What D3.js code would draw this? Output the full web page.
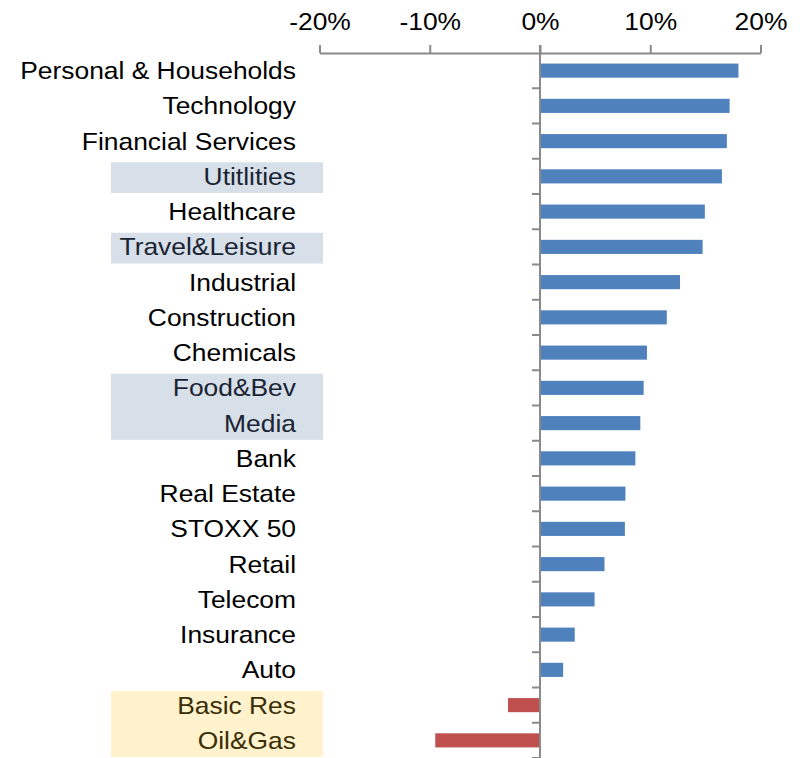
<!DOCTYPE html>
<html>
<head>
<meta charset="utf-8">
<script src="https://cdn.jsdelivr.net/npm/d3@7"></script>
<style>
  html, body { margin: 0; padding: 0; background: #ffffff; }
  svg { display: block; font-family: Arial, "Liberation Sans", sans-serif; }
</style>
</head>
<body>
<svg id="chart" width="800" height="758"></svg>
<script>
// Sector returns, sorted from best to worst
const sectors = [
  "Personal & Households", "Technology", "Financial Services", "Utitlities",
  "Healthcare", "Travel&Leisure", "Industrial", "Construction", "Chemicals",
  "Food&Bev", "Media", "Bank", "Real Estate", "STOXX 50", "Retail",
  "Telecom", "Insurance", "Auto", "Basic Res", "Oil&Gas"
];
const returns = [
  18.0, 17.2, 16.95, 16.5, 14.95, 14.75, 12.7, 11.5, 9.7,
  9.4, 9.1, 8.65, 7.75, 7.7, 5.85, 4.95, 3.15, 2.1, -2.9, -9.5
];
const tickValues = [-20, -10, 0, 10, 20];

// Highlighted label groups: [first sector, last sector, fill, text colour]
const highlights = [
  ["Utitlities", "Utitlities", "#d7dfe8", "#1a2434"],
  ["Travel&Leisure", "Travel&Leisure", "#d7dfe8", "#1a2434"],
  ["Food&Bev", "Media", "#d7dfe8", "#1a2434"],
  ["Basic Res", "Oil&Gas", "#fff2cc", "#3a2e08"]
];

const svg = d3.select("#chart");
const axisColor = "#8a8a8a";
const fontSize = 24, stretch = 1.1;

const x = d3.scaleLinear().domain([-20, 20]).range([319.5, 760.5]);
const y = d3.scaleBand().domain(sectors).range([53, 758]).paddingInner(0.6).paddingOuter(0.3);
const step = y.step();
const bandTop = d => y(d) - y.paddingInner() * step / 2;

// Highlight boxes behind some labels
svg.append("g").selectAll("rect")
  .data(highlights)
  .join("rect")
  .attr("x", 111)
  .attr("width", 212)
  .attr("y", d => bandTop(d[0]) + 3.5)
  .attr("height", d => bandTop(d[1]) + step - 1 - (bandTop(d[0]) + 3.5))
  .attr("fill", d => d[2]);

const labelColor = name => {
  for (const h of highlights) {
    const i0 = sectors.indexOf(h[0]), i1 = sectors.indexOf(h[1]), i = sectors.indexOf(name);
    if (i >= i0 && i <= i1) return h[3];
  }
  return "#000000";
};

// Category labels
svg.append("g").selectAll("text")
  .data(sectors)
  .join("text")
  .attr("transform", d => `translate(296,${y(d) + y.bandwidth() / 2 + 8.5}) scale(${stretch},1)`)
  .attr("text-anchor", "end")
  .attr("font-size", fontSize)
  .attr("fill", labelColor)
  .text(d => d);

// Bars
svg.append("g").selectAll("rect")
  .data(sectors.map((s, i) => ({ s, v: returns[i] })))
  .join("rect")
  .attr("x", d => x(Math.min(0, d.v)))
  .attr("width", d => Math.abs(x(d.v) - x(0)))
  .attr("y", d => y(d.s))
  .attr("height", y.bandwidth())
  .attr("fill", d => d.v >= 0 ? "#4f81bd" : "#c0504d");

// Top value axis
const xAxis = d3.axisTop(x)
  .tickValues(tickValues)
  .tickSize(8)
  .tickSizeOuter(0)
  .tickFormat(d => d + "%");
const gx = svg.append("g").attr("transform", "translate(0,53)").call(xAxis);
gx.select(".domain").attr("stroke", axisColor).attr("stroke-width", 2);
gx.selectAll(".tick line").attr("stroke", axisColor).attr("stroke-width", 2);
gx.selectAll(".tick text")
  .attr("font-size", fontSize)
  .attr("font-family", "Arial, 'Liberation Sans', sans-serif")
  .attr("fill", "#000000")
  .attr("y", 0)
  .attr("dy", 0)
  .attr("transform", d => `translate(0,-23) scale(${stretch},1)`);

// Category axis along zero
const boundaries = sectors.slice(1).map(bandTop).concat([758]);
svg.append("g").selectAll("line")
  .data(boundaries)
  .join("line")
  .attr("x1", x(0) - 8).attr("x2", x(0))
  .attr("y1", d => d).attr("y2", d => d)
  .attr("stroke", axisColor).attr("stroke-width", 2);
svg.append("line")
  .attr("x1", x(0)).attr("x2", x(0))
  .attr("y1", 45).attr("y2", 758)
  .attr("stroke", axisColor).attr("stroke-width", 2);
</script>
</body>
</html>
